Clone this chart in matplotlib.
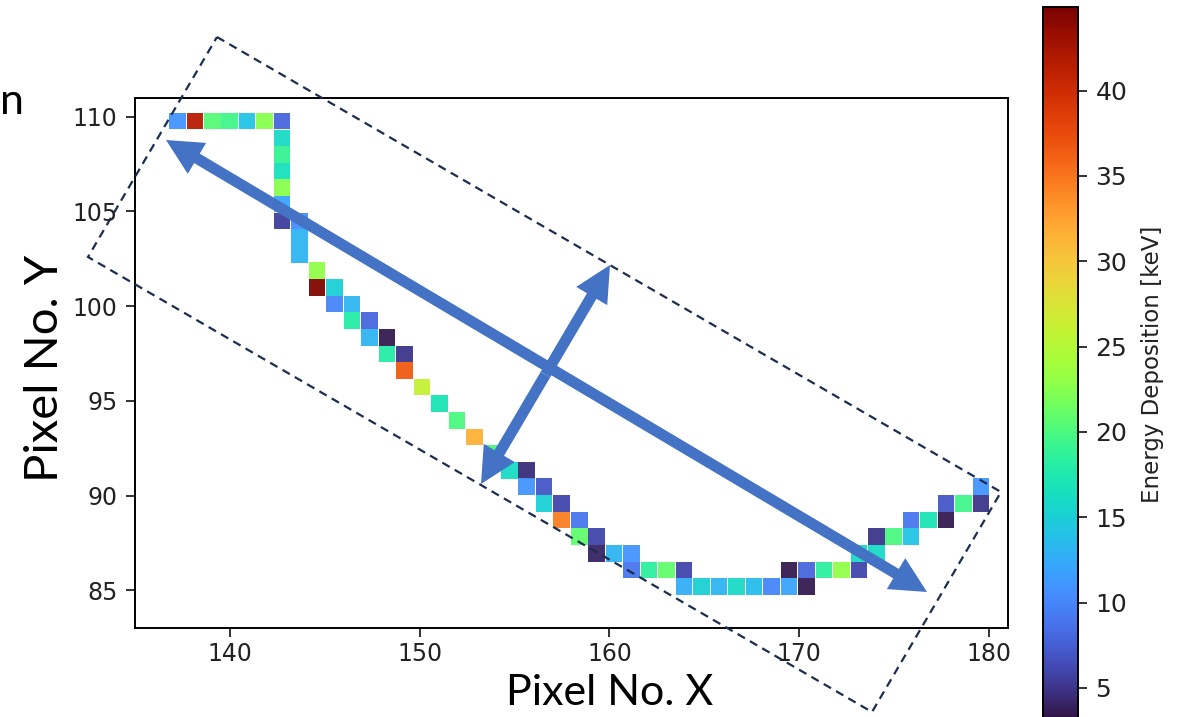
import numpy as np
import matplotlib
matplotlib.use("Agg")
import matplotlib.pyplot as plt
from matplotlib.patches import Polygon, FancyArrow

# hit pixels of the track (pixel centre in plot units) and deposited energy
pixel_x = [137.23, 138.15, 139.07, 139.99, 140.91, 141.83, 142.75,
           142.75, 142.75, 142.75, 142.75, 142.75,
           142.75, 143.67, 143.67, 143.67,
           144.60, 144.60, 145.52, 145.52, 146.44, 146.44, 147.36,
           147.36, 148.28, 148.28, 149.20, 149.20,
           150.12, 151.04, 151.96, 152.88, 153.80,
           154.72, 155.64, 155.64, 156.56, 156.56, 157.48, 157.48, 158.41,
           158.41, 159.33, 159.33, 160.25, 161.17,
           161.17, 162.09, 163.01, 163.93,
           163.93, 164.85, 165.77, 166.69, 167.61, 168.53, 169.45, 170.38,
           169.45, 170.38, 171.30, 172.22, 173.14,
           173.14, 174.06, 174.06, 174.98, 175.90,
           175.90, 176.82, 177.74, 177.74, 178.66, 179.58, 179.58]
pixel_y = [109.76, 109.76, 109.76, 109.76, 109.76, 109.76, 109.76,
           108.88, 108.01, 107.13, 106.25, 105.38,
           104.50, 104.50, 103.62, 102.74,
           101.87, 100.99, 100.99, 100.11, 100.11, 99.24, 99.24,
           98.36, 98.36, 97.48, 97.48, 96.61,
           95.73, 94.85, 93.97, 93.10, 92.22,
           91.34, 91.34, 90.47, 90.47, 89.59, 89.59, 88.71, 88.71,
           87.83, 87.83, 86.96, 86.96, 86.96,
           86.08, 86.08, 86.08, 86.08,
           85.20, 85.20, 85.20, 85.20, 85.20, 85.20, 85.20, 85.20,
           86.08, 86.08, 86.08, 86.08, 86.08,
           86.96, 86.96, 87.83, 87.83, 87.83,
           88.71, 88.71, 88.71, 89.59, 89.59, 89.59, 90.47]
energy_kev = [11, 41.5, 20.5, 19.5, 14, 22.5, 8,
              16, 19, 16.5, 22.5, 12,
              5.5, 10.5, 13, 13,
              23, 44.5, 15, 10, 13, 18, 8,
              13, 3.5, 18, 5, 36.5,
              26, 17, 20, 31.5, 20,
              16, 4.5, 11, 7, 15, 6, 34.5, 9,
              21, 6, 4, 13, 11,
              9, 18.5, 21, 6,
              12.5, 15, 13, 16, 13.5, 10, 12, 3.5,
              3.5, 8, 18.5, 23, 6,
              16, 16, 5, 20, 14,
              9, 17, 3.5, 7, 19.5, 5, 11]

x_ticks = [140, 150, 160, 170, 180]
y_ticks = [85, 90, 95, 100, 105, 110]
cbar_ticks = [5, 10, 15, 20, 25, 30, 35, 40]

W, H = 1191, 717
fig = plt.figure(figsize=(W / 100, H / 100), dpi=100)

# main pixel map
ax = fig.add_axes([135 / W, 1 - 628.3 / H, 873 / W, 530.6 / H])
sc = ax.scatter(pixel_x, pixel_y, c=energy_kev, cmap="turbo", vmin=3.0, vmax=44.9,
                marker="s", s=142, linewidths=0, alpha=0.95)
ax.set_xlim(135, 181)
ax.set_ylim(83, 111)
ax.set_xticks(x_ticks)
ax.set_yticks(y_ticks)
ax.tick_params(labelsize=17, length=6.5, width=1.3, colors="#222222")
ax.tick_params(axis="x", pad=3.5)
ax.tick_params(axis="y", pad=6)
for sp in ax.spines.values():
    sp.set_linewidth(1.4)

# colorbar (runs off the bottom of the picture)
cax = fig.add_axes([1043 / W, 1 - 722 / H, 35 / W, 715 / H])
cb = fig.colorbar(sc, cax=cax, ticks=cbar_ticks)
cb.solids.set_alpha(1)
cb.outline.set_linewidth(1.4)
cb.ax.tick_params(labelsize=18, length=6.5, width=1.3, pad=6, colors="#222222")
cb.set_label("Energy Deposition [keV]", fontsize=16.5, labelpad=10, color="#222222")

lab = dict(family="Lato", color="black")
fig.text(45 / W, 1 - 368 / H, "Pixel No. Y", rotation=90, ha="center", va="center",
         fontsize=34, **lab)
fig.text(610 / W, 1 - 693 / H, "Pixel No. X", ha="center", va="center", fontsize=31, **lab)
fig.text(0, 1 - 102 / H, "n", ha="left", va="center", fontsize=31, **lab)

# slide annotations drawn on top, in picture pixels
ov = fig.add_axes([0, 0, 1, 1], facecolor="none")
ov.set_xlim(0, W)
ov.set_ylim(H, 0)
ov.axis("off")

box = [(217, 37), (1001, 492), (872, 712), (88, 257)]
ov.add_patch(Polygon(box, closed=True, fill=False, edgecolor="#1c2d4f",
                     lw=1.6, linestyle=(0, (3.8, 2.6))))

arrow_blue = "#4472C4"
arrows = [((166, 140), (927, 592)), ((481, 484), (610, 265))]
for (xa, ya), (xb, yb) in arrows:
    xm, ym = (xa + xb) / 2, (ya + yb) / 2
    for xe, ye in [(xa, ya), (xb, yb)]:
        ov.add_patch(FancyArrow(xm, ym, xe - xm, ye - ym, width=11, head_width=36,
                                head_length=36, length_includes_head=True,
                                color=arrow_blue, lw=0))

fig.savefig("out.png", dpi=100)
